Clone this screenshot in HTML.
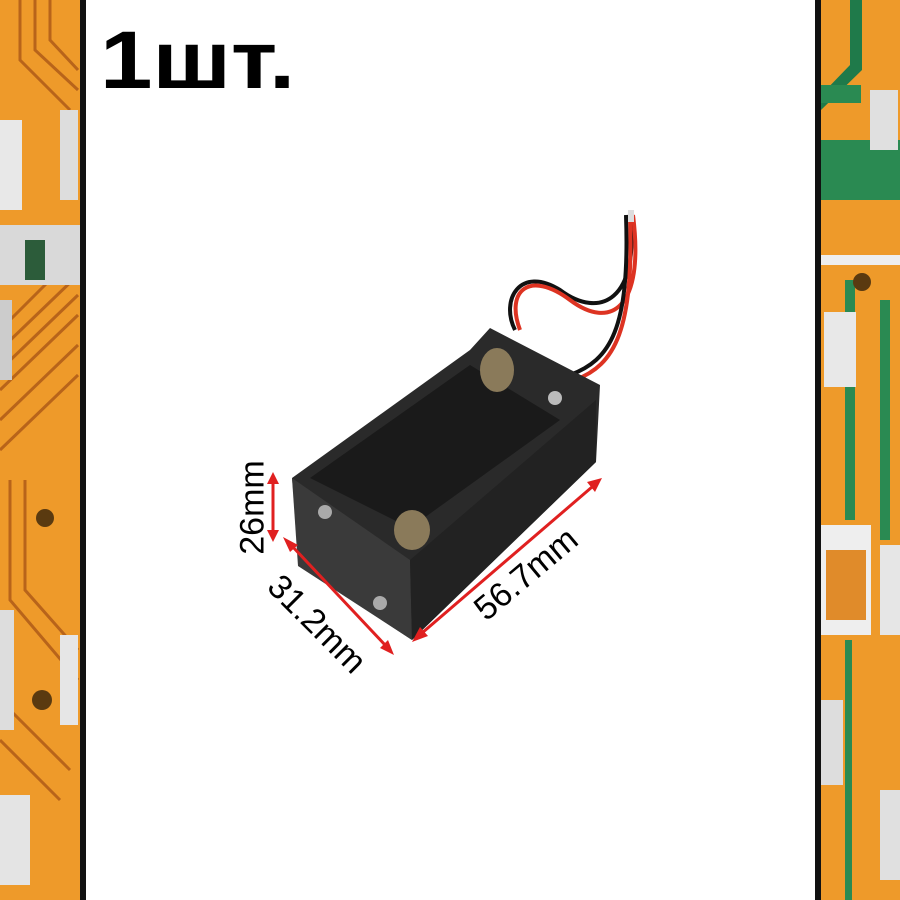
<!DOCTYPE html>
<html><head><meta charset="utf-8"><style>
html,body{margin:0;padding:0;background:#fff;}
#c{position:relative;width:900px;height:900px;overflow:hidden;background:#fff;}
.t{position:absolute;font-family:"Liberation Sans",sans-serif;}
</style></head><body><div id="c">
<svg width="900" height="900" style="position:absolute;left:0;top:0">
<rect x="0" y="0" width="80" height="900" fill="#ee9a2a"/>
<g stroke="#b8641a" stroke-width="3" fill="none">
<path d="M20 0 L20 60 L70 110"/><path d="M35 0 L35 50 L78 90"/><path d="M50 0 L50 40 L78 70"/>
<path d="M0 330 L70 260"/><path d="M0 350 L78 275"/><path d="M0 370 L78 295"/><path d="M0 390 L78 315"/>
<path d="M0 420 L78 345"/><path d="M0 450 L78 375"/><path d="M10 480 L10 600 L78 680"/><path d="M25 480 L25 590 L78 650"/>
<path d="M0 700 L70 770"/><path d="M0 740 L60 800"/>
</g>
<rect x="0" y="120" width="22" height="90" fill="#e8e8e8"/><rect x="60" y="110" width="18" height="90" fill="#ddd"/>
<rect x="0" y="225" width="80" height="60" fill="#d9d9d9"/><rect x="25" y="240" width="20" height="40" fill="#2c5c3a"/>
<rect x="0" y="300" width="12" height="80" fill="#ccc"/>
<circle cx="45" cy="518" r="9" fill="#5a3a10"/><circle cx="42" cy="700" r="10" fill="#5a3a10"/>
<rect x="60" y="635" width="18" height="90" fill="#e6e6e6"/><rect x="0" y="610" width="14" height="120" fill="#ddd"/>
<rect x="0" y="795" width="30" height="90" fill="#e4e4e4"/>
<rect x="80" y="0" width="6" height="900" fill="#111"/>
<rect x="815" y="0" width="6" height="900" fill="#111"/>
<rect x="821" y="0" width="79" height="900" fill="#ee9a2a"/>
<path d="M850 0 L862 0 L862 70 L821 110 L821 95 L850 65Z" fill="#1f7a4a"/>
<path d="M821 140 L900 140 L900 200 L821 200Z" fill="#2a8a52"/>
<rect x="825" y="205" width="35" height="45" fill="#ee9a2a"/>
<rect x="821" y="85" width="40" height="18" fill="#2a8a52"/>
<rect x="870" y="90" width="28" height="60" fill="#e0e0e0"/>
<rect x="821" y="255" width="79" height="10" fill="#eee"/>
<path d="M845 280 L855 280 L855 520 L845 520Z" fill="#2a8a52"/>
<path d="M880 300 L890 300 L890 540 L880 540Z" fill="#2a8a52"/>
<path d="M845 640 L852 640 L852 900 L845 900Z" fill="#2a8a52"/>
<circle cx="862" cy="282" r="9" fill="#5a3a10"/>
<rect x="824" y="312" width="32" height="75" fill="#e8e8e8"/>
<rect x="821" y="525" width="50" height="110" fill="#eee"/><rect x="826" y="550" width="40" height="70" fill="#e08b2a"/>
<rect x="880" y="545" width="20" height="90" fill="#e6e6e6"/>
<rect x="821" y="700" width="22" height="85" fill="#ddd"/>
<rect x="880" y="790" width="20" height="90" fill="#e0e0e0"/>
<path d="M630 215 C640 300 600 320 560 290 C520 265 500 300 515 330" stroke="#111" stroke-width="4" fill="none"/>
<path d="M633 215 C645 310 610 330 570 300 C530 270 505 290 520 330" stroke="#d32" stroke-width="4" fill="none"/>
<path d="M626 215 C630 330 610 360 570 375" stroke="#111" stroke-width="4" fill="none"/>
<path d="M630 215 C634 330 615 365 575 380" stroke="#d32" stroke-width="4" fill="none"/>
<rect x="628" y="210" width="6" height="12" fill="#ddd"/>
<polygon points="292,478 470,350 490,328 600,385 596,462 412,640 300,566" fill="#2a2a2a"/>
<polygon points="292,478 410,560 412,640 298,566" fill="#3a3a3a"/>
<polygon points="310,478 470,365 560,420 410,528" fill="#1a1a1a"/>
<polygon points="410,560 596,400 596,462 412,640" fill="#222"/>
<circle cx="325" cy="512" r="7" fill="#aaa"/><circle cx="380" cy="603" r="7" fill="#aaa"/>
<ellipse cx="497" cy="370" rx="17" ry="22" fill="#8a7a5a"/>
<ellipse cx="412" cy="530" rx="18" ry="20" fill="#8a7a5a"/>
<circle cx="555" cy="398" r="7" fill="#bbb"/>
<g stroke="#e02020" stroke-width="3" fill="#e02020">
<line x1="273" y1="482" x2="273" y2="532"/><polygon points="267,484 279,484 273,472" stroke="none"/><polygon points="267,530 279,530 273,542" stroke="none"/>
<line x1="292" y1="546" x2="386" y2="646"/><polygon points="283,537 298,545 290,552" stroke="none"/><polygon points="394,655 380,648 388,640" stroke="none"/>
<line x1="422" y1="633" x2="592" y2="487"/><polygon points="412,642 420,627 428,636" stroke="none"/><polygon points="602,478 587,482 595,492" stroke="none"/>
</g>
</svg>
<div class="t" style="left:100px;top:14px;font-size:82px;font-weight:bold;color:#000;transform:scaleX(1.15);transform-origin:left top">1шт.</div>
<div class="t" style="left:206px;top:488px;font-size:34px;transform:rotate(-90deg);transform-origin:center">26mm</div>
<div class="t" style="left:255px;top:605px;font-size:34px;transform:rotate(45deg)">31.2mm</div>
<div class="t" style="left:465px;top:555px;font-size:34px;transform:rotate(-40deg)">56.7mm</div>
</div></body></html>
